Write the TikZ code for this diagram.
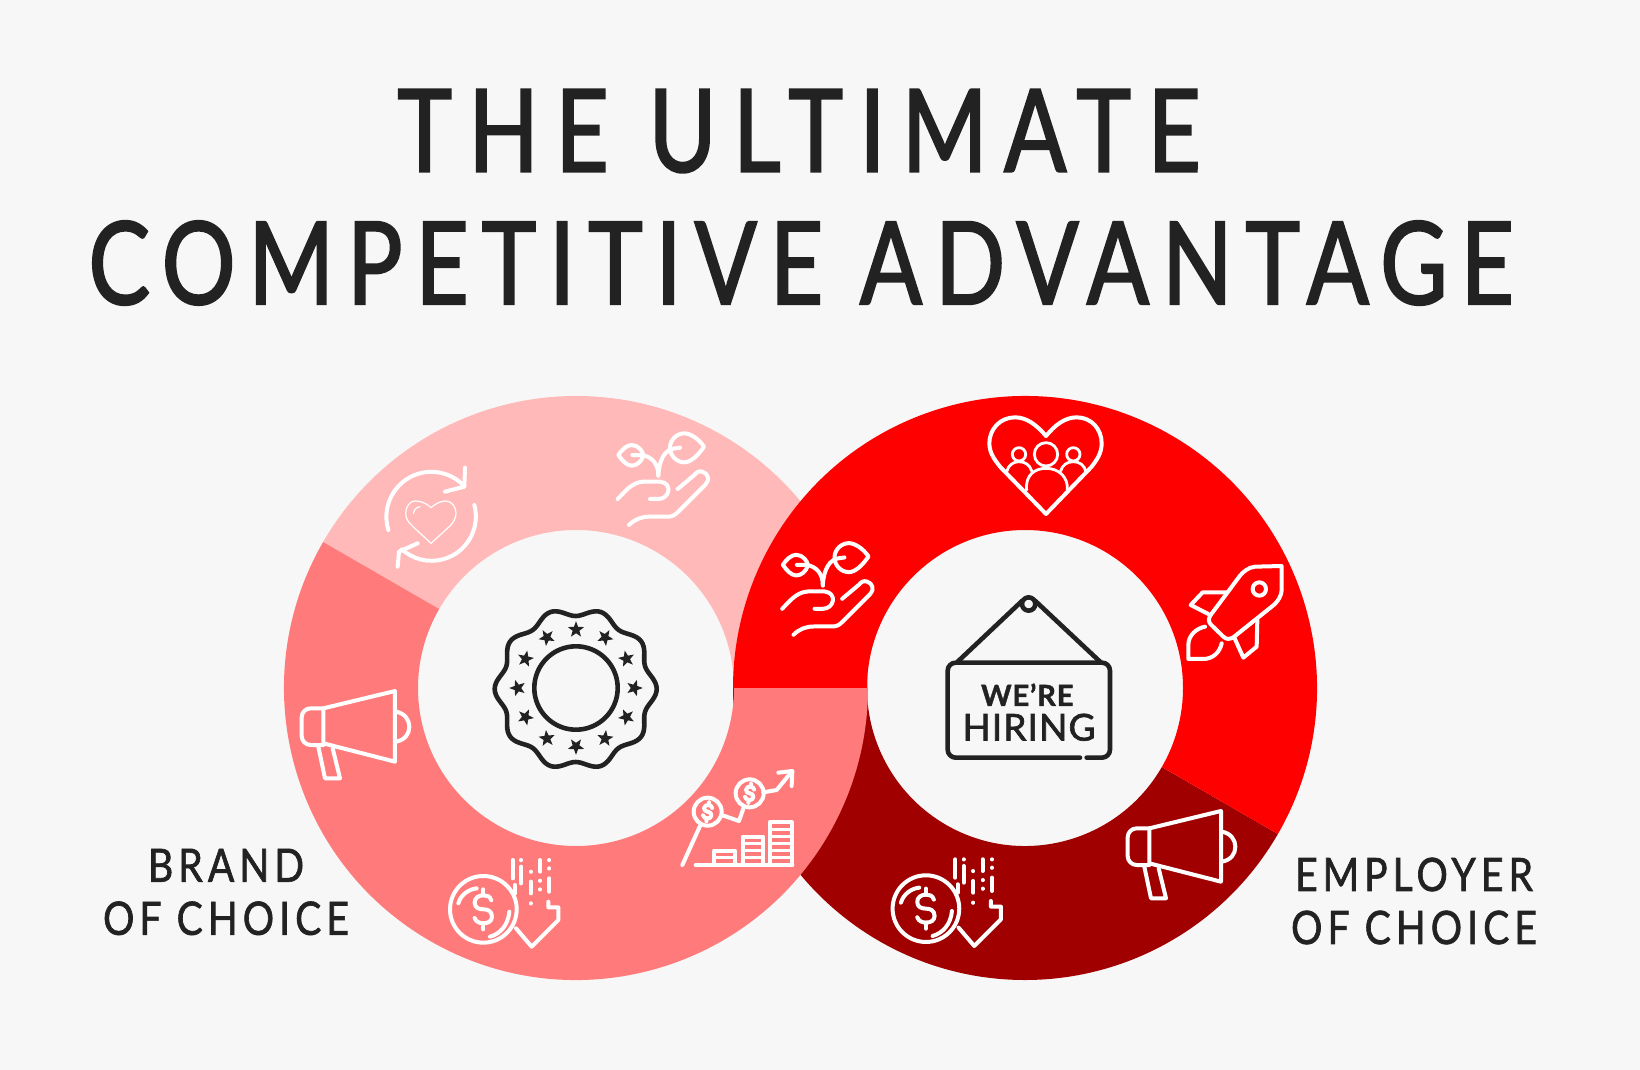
\documentclass[tikz,border=0pt]{standalone}
\usepackage{fontspec}
\setmainfont{Lato}
\usetikzlibrary{shapes.geometric}

\definecolor{pagebg}{HTML}{F7F7F7}
\definecolor{ink}{HTML}{222222}
\definecolor{ringlight}{HTML}{FFB9B9}
\definecolor{ringmid}{HTML}{FF7B7B}
\definecolor{ringred}{HTML}{FF0000}
\definecolor{ringdark}{HTML}{A00000}

\tikzset{
iconline/.style={
  draw=white,
  line width=4pt,
  line cap=round,
  line join=round,
  scale=.3333
  },
iconthin/.style={
  iconline,
  line width=2.8pt
  },
inkline/.style={
  iconline,
  draw=ink,
  line width=4.6pt
  },
pics/dollarmark/.style={code={
  \draw[iconline] (24,-27) .. controls (20,-40) and (10,-42) .. (0,-42)
    .. controls (-14,-42) and (-26,-34) .. (-26,-20)
    .. controls (-26,-4) and (-12,0) .. (0,0)
    .. controls (14,0) and (26,6) .. (26,22)
    .. controls (26,36) and (14,42) .. (0,42)
    .. controls (-10,42) and (-22,38) .. (-26,26);
  \draw[iconline] (0,-60) -- (0,-42) (0,42) -- (0,60);
}},
pics/megaphone/.style={code={
  \draw[iconline] (100,85) -- (315,33) -- (315,245) -- (100,190) -- cycle;
  \draw[iconline,rounded corners=9pt] (100,85) -- (35,85) -- (35,195) -- (100,195);
  \draw[iconline] (85,200) -- (105,295) -- (150,295) -- (128,205);
  \draw[iconline] (318,95) .. controls (345,100) and (358,120) .. (358,140)
    .. controls (358,162) and (345,180) .. (318,185);
}},
pics/seedling/.style={code={
  \draw[iconline] (10,90) .. controls (20,75) and (35,60) .. (50,60)
    .. controls (70,60) and (85,80) .. (85,92)
    .. controls (80,110) and (65,122) .. (50,122)
    .. controls (35,122) and (20,105) .. (10,90) -- cycle;
  \draw[iconline] (52,90) -- (80,90) .. controls (110,95) and (130,115) .. (130,152);
  \draw[iconline] (267,65) .. controls (250,40) and (225,25) .. (208,25)
    .. controls (185,25) and (165,45) .. (165,68)
    .. controls (165,92) and (185,112) .. (208,112)
    .. controls (228,112) and (250,90) .. (267,65) -- cycle;
  \draw[iconline] (195,68) -- (180,70) .. controls (150,72) and (132,105) .. (130,152);
  \draw[iconline] (8,222) .. controls (30,200) and (50,172) .. (85,170) -- (135,170)
    .. controls (155,172) and (162,185) .. (160,198)
    .. controls (158,212) and (145,222) .. (130,222) -- (105,222);
  \draw[iconline] (42,300) .. controls (60,282) and (80,275) .. (105,275) -- (160,275)
    .. controls (172,275) and (180,270) .. (190,260) -- (272,178)
    .. controls (285,165) and (280,145) .. (262,140)
    .. controls (250,137) and (245,142) .. (238,150) -- (188,192);
}},
pics/coinfall/.style={code={
  \draw[iconline] (130,178) circle (100);
  \draw[iconline] (55,160) .. controls (62,135) and (85,118) .. (110,115);
  \draw[iconline] (208,185) .. controls (205,225) and (180,252) .. (150,260);
  \pic at (43.3,59.3) {dollarmark};
  \draw[iconline] (228,235) -- (275,290) -- (355,210) -- (355,172) -- (325,172) -- (325,155);
  \draw[iconline] (225,105) -- (225,130);
  \foreach \dx/\ya/\yb in {218/30/85,243/50/100,272/95/130,300/30/65,328/85/125}
    \draw[iconline] (\dx,\ya) -- (\dx,\yb);
  \foreach \dx/\dy in {243/30,272/65,272/160,300/92,300/118,328/30,328/55}
    \draw[iconline] (\dx,\dy) -- ++(0,.5);
}},
pics/growthchart/.style={code={
  \draw[iconline] (98,155) circle (42) (224,100) circle (42);
  \pic[scale=.48,rotate=-8] at (32.7,51.7) {dollarmark};
  \pic[scale=.48,rotate=-8] at (74.7,33.3) {dollarmark};
  \draw[iconline] (75,198) -- (22,315);
  \draw[iconline] (140,165) -- (192,183) -- (207,140);
  \draw[iconline] (265,97) -- (305,90) -- (350,35);
  \draw[iconline] (310,38) -- (352,33) -- (350,78);
  \draw[iconline] (62,315) -- (352,315);
  \draw[iconline] (118,315) -- (118,272) -- (180,272) -- (180,315);
  \draw[iconline] (203,315) -- (203,230) -- (265,230) -- (265,315);
  \draw[iconline] (285,315) -- (285,187) -- (350,187) -- (350,315);
  \foreach \yy in {293}
    \draw[iconthin] (118,\yy) -- (180,\yy);
  \foreach \yy in {251,272,293}
    \draw[iconthin] (203,\yy) -- (265,\yy);
  \foreach \yy in {208,230,251,272,293}
    \draw[iconthin] (285,\yy) -- (350,\yy);
}},
pics/heartloop/.style={code={
  \draw[iconline] (40,315) arc (163:317:135);
  \draw[iconline] (298,240) arc (-15:132:133);
  \draw[iconline] (270,128) -- (268,185) -- (210,200);
  \draw[iconline] (68,425) -- (72,380) -- (128,355);
  \draw[iconline,line width=1.2pt] (168,248) .. controls (150,232) and (135,228) .. (120,228)
    .. controls (105,228) and (92,245) .. (92,265)
    .. controls (92,280) and (100,292) .. (112,303) -- (168,355) -- (225,303)
    .. controls (235,292) and (243,280) .. (243,265)
    .. controls (243,245) and (230,228) .. (212,228)
    .. controls (195,228) and (180,238) .. (168,248);
  \draw[iconline,line width=1.2pt] (115,265) .. controls (116,255) and (122,248) .. (135,245);
}},
pics/heartfamily/.style={code={
  \draw[iconline] (198,78) .. controls (170,45) and (140,22) .. (105,22)
    .. controls (60,22) and (28,58) .. (28,100)
    .. controls (28,130) and (45,150) .. (60,170) -- (198,312) -- (335,170)
    .. controls (350,150) and (365,130) .. (365,100)
    .. controls (365,58) and (335,22) .. (290,22)
    .. controls (255,22) and (225,45) .. (198,78);
  \draw[iconthin] (198,133) circle (35) (117,133) circle (20) (280,133) circle (20);
  \draw[iconthin] (140,240) .. controls (135,195) and (165,175) .. (198,175)
    .. controls (235,175) and (265,200) .. (262,240);
  \draw[iconthin] (80,185) .. controls (85,165) and (100,155) .. (117,155)
    .. controls (135,155) and (150,165) .. (155,183);
  \draw[iconthin] (242,183) .. controls (247,165) and (262,155) .. (280,155)
    .. controls (298,155) and (313,165) .. (318,185);
}},
pics/rocket/.style={code={
  \draw[iconline] (305,33) -- (225,35) .. controls (205,37) and (190,50) .. (180,62)
    -- (92,180) .. controls (85,190) and (85,200) .. (92,208) -- (130,245)
    .. controls (140,255) and (150,252) .. (160,247) -- (275,155)
    .. controls (295,140) and (305,120) .. (305,105) -- cycle;
  \draw[iconline] (238,102) circle (20);
  \draw[iconline] (140,112) -- (68,112) -- (32,150) -- (85,177);
  \draw[iconline] (232,195) -- (230,275) -- (190,308) -- (163,248);
  \draw[iconline] (75,215) .. controls (50,220) and (25,240) .. (25,270) -- (25,312) -- (70,312)
    .. controls (100,312) and (120,290) .. (125,265);
}},
pics/hiringsign/.style={code={
  \draw[inkline] (281,42) circle (20);
  \draw[inkline] (262,32) -- (68,215);
  \draw[inkline] (300,32) -- (495,215);
  \draw[inkline,rounded corners=8pt] (435,503) -- (38,503) -- (38,218) -- (525,218) -- (525,503) -- (455,503);
}}
}

\begin{document}
\begin{tikzpicture}[
x=1pt,
y=-1pt,
titletext/.style={
  text=ink,
  inner sep=0pt,
  font=\fontsize{115}{115}\selectfont\addfontfeature{FakeStretch=.8,FakeBold=1.8,LetterSpace=#1}
  },
sidelabel/.style={
  text=ink,
  align=center,
  inner sep=0pt,
  font=\fontsize{46}{53}\selectfont\addfontfeature{FakeStretch=.85,FakeBold=1.4,LetterSpace=11}
  },
starmark/.style={
  star,
  star points=5,
  star point ratio=2.4,
  fill=ink,
  inner sep=0pt,
  minimum size=17pt
  }
]
\useasboundingbox (0,0) rectangle (1640,1070);
\fill[pagebg] (0,0) rectangle (1640,1070);

\node[titletext=14.5] (titleone) at (799,131) {THE ULTIMATE};
\node[titletext=11.4] (titletwo) at (801,263) {COMPETITIVE ADVANTAGE};

\coordinate (brandc) at (576,688);
\coordinate (employerc) at (1025,688);
% ring parts, the later ones lie on top
\foreach \cc/\from/\to/\col in {brandc/0/-150/ringlight,employerc/-180/-330/ringdark,employerc/30/-180/ringred,brandc/-150/-360/ringmid}
  \fill[\col] ([shift={(\from:292)}]\cc) arc (\from:\to:292)
    -- ([shift={(\to:158)}]\cc) arc (\to:\from:158) -- cycle;

\pic at (375,425) {heartloop};
\pic at (615,425) {seedling};
\pic at (290,680) {megaphone};
\pic at (440,850) {coinfall};
\pic at (675,760) {growthchart};

\pic at (980,410) {heartfamily};
\pic at (779.5,534.8) {seedling};
\pic at (1180,555) {rocket};
\pic at (1116,800) {megaphone};
\pic at (882.6,849.3) {coinfall};

% badge
\draw[ink,line width=4.6pt] plot[domain=0:360,samples=181,smooth] ({575.7+(77+4*cos(10*\x))*cos(\x)},{689+(77+4*cos(10*\x))*sin(\x)}) -- cycle;
\draw[ink,line width=4.6pt] (brandc) circle (41.7);
\foreach \a [count=\i] in {0,30,...,330}
  \node[starmark,rotate=-\a-90] (star\i) at ([shift={(\a:58.3)}]brandc) {};

% sign
\pic at (935,590) {hiringsign};
\node[text=ink,inner sep=0pt,font=\bfseries\fontsize{29}{29}\selectfont\addfontfeature{FakeBold=1.4,LetterSpace=3}] (were) at (1027.3,694.7) {WE’RE};
\node[text=ink,inner sep=0pt,font=\fontsize{37}{37}\selectfont\addfontfeature{FakeBold=1.8,LetterSpace=3}] (hiring) at (1029,727.3) {HIRING};

\node[sidelabel] (brandlabel) at (226,892) {BRAND\\OF CHOICE};
\node[sidelabel] (employerlabel) at (1414,901) {EMPLOYER\\OF CHOICE};
\end{tikzpicture}
\end{document}
